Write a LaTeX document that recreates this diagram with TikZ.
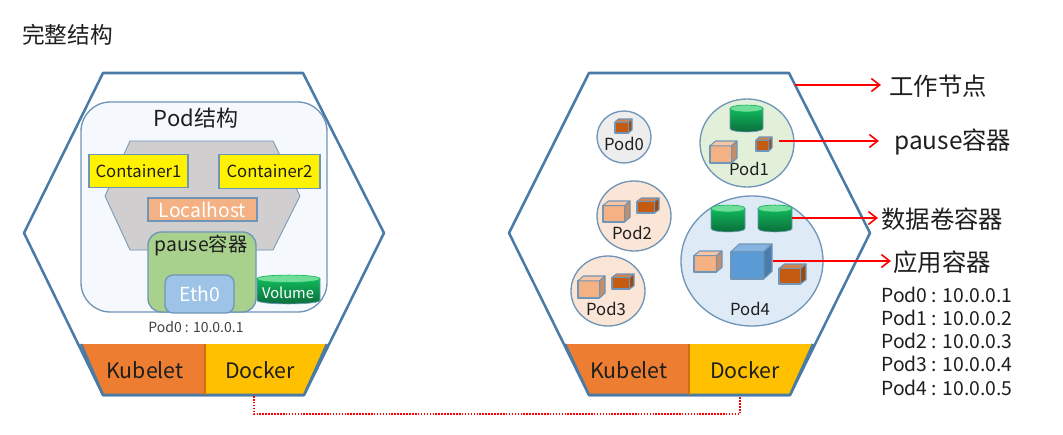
\documentclass[tikz,border=0pt]{standalone}
\usepackage{fontspec}
\setmainfont{Noto Sans CJK SC}
\usetikzlibrary{arrows.meta,positioning,shapes.geometric}
\definecolor{ink}{HTML}{1E1E1E}
\definecolor{hexline}{HTML}{4A7BA6}
\definecolor{softline}{HTML}{6F95B8}
\definecolor{slate}{HTML}{D0CECE}
\definecolor{peach}{HTML}{F4B183}
\definecolor{rust}{HTML}{C55A11}
\definecolor{skyblue}{HTML}{5B9BD5}
\definecolor{ethblue}{HTML}{9DC3E6}
\definecolor{leaf}{HTML}{A9D18E}
\definecolor{kubecol}{HTML}{ED7D31}
\definecolor{dockcol}{HTML}{FFC000}
\definecolor{drumtop}{HTML}{70DD99}
\definecolor{drumhi}{HTML}{10B85A}
\definecolor{drumlo}{HTML}{0B6B3A}
\definecolor{podgrey}{HTML}{EDEDED}
\definecolor{podgreen}{HTML}{E2F0D9}
\definecolor{podpeach}{HTML}{FBE5D6}
\definecolor{podblue}{HTML}{DEEAF6}
\definecolor{podpale}{HTML}{F5F9FD}
\newcommand{\fsz}[1]{\fontsize{#1}{#1}\selectfont}
% x, y, width, height, colour
\newcommand{\crate}[5]{
  \begin{scope}[shift={(#1,#2)}, x=#3*0.75pt, y=-#4*0.75pt, draw=softline, line width=0.8pt, line join=round]
    \draw[fill=#5] (0,.22) rectangle (.8,1);
    \draw[fill=#5!75!white] (0,.22) -- (.2,0) -- (1,0) -- (.8,.22) -- cycle;
    \draw[fill=#5!80!black] (.8,.22) -- (1,0) -- (1,.78) -- (.8,1) -- cycle;
  \end{scope}
}
% x, y, width, height
\newcommand{\drum}[4]{
  \begin{scope}[shift={(#1,#2)}, x=#3*0.75pt, y=-#4*0.75pt]
    \path[top color=drumhi, bottom color=drumlo, draw=softline, line width=0.5pt]
      (0,.13) -- (0,.87) .. controls (0,1.04) and (1,1.04) .. (1,.87) -- (1,.13) -- cycle;
    \draw[fill=drumtop, draw=drumhi, line width=0.5pt]
      (0,.13) .. controls (0,-.04) and (1,-.04) .. (1,.13) .. controls (1,.30) and (0,.30) .. (0,.13) -- cycle;
  \end{scope}
}
\begin{document}
\begin{tikzpicture}[
  x=0.75pt, y=-0.75pt,
  every node/.style={text=ink, inner sep=0pt},
  hexnode/.style={draw=hexline, line width=1.9pt, line join=round},
  yellowbox/.style={draw=softline, fill=yellow, line width=0.8pt, minimum width=75pt, minimum height=25pt, font=\fsz{12.5}},
  podc/.style={ellipse, draw=softline, line width=1pt},
  podlabel/.style={font=\fsz{12.5}},
  tray/.style={font=\fsz{16}},
  side/.style={font=\fsz{18.3}},
  addr/.style={font=\fsz{14.5}, anchor=north west},
  arr/.style={-{Straight Barb[length=2.2mm,width=3.4mm]}, line width=1.2pt, red},
  dot/.style={red, line width=1.2pt, dash pattern=on 1.2pt off 1pt}
]
  \useasboundingbox (0,0) rectangle (1063,435);
  \node[anchor=west, font=\fsz{17}] (title) at (22,35) {完整结构};

  % left node
  \draw[hexnode] (103,73) -- (303,73) -- (384,233) -- (304,395) -- (103,395) -- (24,233) -- cycle;
  \node[draw=softline, fill=podpale, line width=1pt, rounded corners=22pt, minimum width=184.5pt, minimum height=157.5pt] (podbox) at (204,207) {};
  \node[font=\fsz{16.5}] (podname) at (196,118) {Pod结构};
  \draw[draw=softline, fill=slate, line width=0.6pt] (130,141) -- (273,141) -- (300,196) -- (273,250) -- (130,250) -- (105,196) -- cycle;
  \node[yellowbox, minimum width=74.25pt] (c1) at (138.5,171) {Container1};
  \node[yellowbox, minimum width=75.75pt] (c2) at (269.5,171.5) {Container2};
  \node[draw=softline, fill=peach, line width=1pt, text=white, minimum width=81.75pt, minimum height=17.25pt, font=\fsz{14.5}] (lh) at (202.5,209.5) {Localhost};
  \node[draw=softline, fill=leaf, line width=1pt, rounded corners=10pt, minimum width=81pt, minimum height=60pt] (pausebox) at (202,272) {};
  \node[font=\fsz{14.5}] (pausetxt) at (201,246) {pause容器};
  \node[draw=softline, fill=ethblue, line width=1pt, rounded corners=6pt, minimum width=51.75pt, minimum height=28.5pt, text=white, font=\fsz{14.5}] (eth) at (199.5,294) {Eth0};
  \drum{257}{275}{63}{29}
  \node[text=white, font=\fsz{11}] (vol) at (288,293) {Volume};
  \node[font=\fsz{10.5}, text=ink!85] (ip) at (196,327) {Pod0 : 10.0.0.1};
  \fill[kubecol] (81,344) -- (205,344) -- (205,395) -- (103,395) -- cycle;
  \fill[dockcol] (205,344) -- (327,344) -- (304,395) -- (205,395) -- cycle;
  \draw[hexnode] (81,344) -- (103,395) -- (304,395) -- (327,344);
  \draw[rust!80!dockcol, line width=0.8pt] (205,344) -- (205,395);
  \node[tray] (kube1) at (145,370) {Kubelet};
  \node[tray] (dock1) at (260,370) {Docker};
  \coordinate (dl) at (254,396);

  % right node
  \draw[hexnode] (589,73) -- (789,73) -- (870,233) -- (790,395) -- (589,395) -- (509,233) -- cycle;
  \fill[kubecol] (565,344) -- (689,344) -- (689,395) -- (589,395) -- cycle;
  \fill[dockcol] (689,344) -- (813,344) -- (790,395) -- (689,395) -- cycle;
  \draw[hexnode] (565,344) -- (589,395) -- (790,395) -- (813,344);
  \draw[rust!80!dockcol, line width=0.8pt] (689,344) -- (689,395);
  \node[tray] (kube2) at (629,370) {Kubelet};
  \node[tray] (dock2) at (745,370) {Docker};
  \coordinate (dr) at (740,396);

  \node[podc, fill=podgrey, minimum width=40.5pt, minimum height=39pt] (p0) at (624,137) {};
  \node[podc, fill=podgreen, minimum width=70.5pt, minimum height=66pt] (p1) at (747,143) {};
  \node[podc, fill=podpeach, minimum width=55.5pt, minimum height=52.5pt] (p2) at (634,216) {};
  \node[podc, fill=podpeach, minimum width=55.5pt, minimum height=52.5pt] (p3) at (608,291) {};
  \node[podc, fill=podblue, minimum width=106.5pt, minimum height=97.5pt] (p4) at (752,261) {};
  \node[podlabel] (p0t) at (624,144) {Pod0};
  \node[podlabel] (p1t) at (749,169) {Pod1};
  \node[podlabel] (p2t) at (632,233) {Pod2};
  \node[podlabel] (p3t) at (606,309) {Pod3};
  \node[podlabel] (p4t) at (750,309) {Pod4};
  \crate{615}{119}{17}{14}{rust}
  \drum{730}{105}{33}{27}
  \crate{756}{137}{16}{14}{rust}
  \crate{710}{141}{27}{22}{peach}
  \crate{603}{201}{27}{21}{peach}
  \crate{637}{198}{22}{15}{rust}
  \crate{578}{276}{27}{22}{peach}
  \crate{612}{274}{22}{15}{rust}
  \drum{711}{205}{34}{27}
  \drum{758}{205}{34}{27}
  \crate{694}{251}{28}{21}{peach}
  \crate{731}{244}{41}{35}{skyblue}
  \crate{779}{264}{27}{20}{rust}

  % labels on the right
  \node[side, anchor=west] (worker) at (889,86) {工作节点};
  \node[side, anchor=west] (pausel) at (894,142) {pause容器};
  \node[side, anchor=west] (datal) at (881,219) {数据卷容器};
  \node[side, anchor=west] (appl) at (893,262) {应用容器};
  \node[addr] (a0) at (881,287) {Pod0 : 10.0.0.1};
  \node[addr, below=5.2pt of a0.south west, anchor=north west] (a1) {Pod1 : 10.0.0.2};
  \node[addr, below=5.2pt of a1.south west, anchor=north west] (a2) {Pod2 : 10.0.0.3};
  \node[addr, below=5.2pt of a2.south west, anchor=north west] (a3) {Pod3 : 10.0.0.4};
  \node[addr, below=5.2pt of a3.south west, anchor=north west] (a4) {Pod4 : 10.0.0.5};

  \coordinate (s0) at (795,85);
  \coordinate (s1) at (779,141);
  \coordinate (s2) at (792,218);
  \coordinate (s3) at (773,261);
  \coordinate (e0) at (881,85);
  \coordinate (e1) at (879,141);
  \coordinate (e2) at (878,218);
  \coordinate (e3) at (891,261);
  \draw[arr] (s0) -- (e0);
  \draw[arr] (s1) -- (e1);
  \draw[arr] (s2) -- (e2);
  \draw[arr] (s3) -- (e3);
  \draw[dot] (dl) -- ++(0,18) -| (dr);
\end{tikzpicture}
\end{document}
